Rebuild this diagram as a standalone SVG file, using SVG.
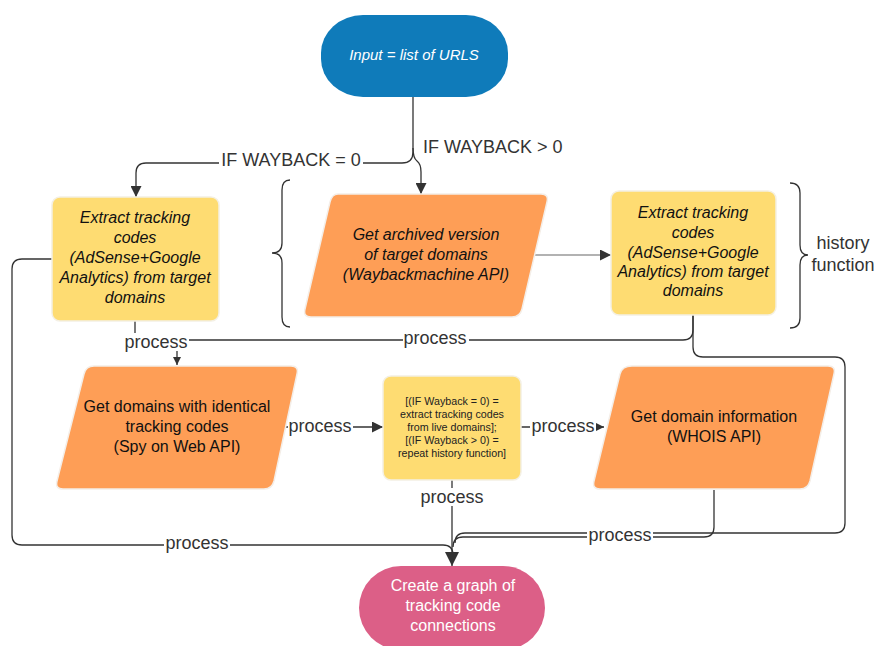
<svg xmlns="http://www.w3.org/2000/svg" width="877" height="646" viewBox="0 0 877 646">
<defs>
<style>
text{font-family:"Liberation Sans",Arial,sans-serif;text-anchor:middle}
.n{font-size:16px;fill:#111}
.i{font-style:italic}
.w{fill:#fff}
.s{font-size:10.7px;fill:#222}
.lbl{font-size:18px;fill:#333}
.c{fill:none;stroke:#333;stroke-width:1.3}
.yel{fill:#fedc72;stroke:#f4f0e4;stroke-width:1.5}
.org{fill:#fe9e56;stroke:#f4eee8;stroke-width:1.5}
.bg{fill:#fff}
</style>
<marker id="ah" viewBox="0 0 10 10" refX="10" refY="5" markerWidth="8" markerHeight="8" markerUnits="userSpaceOnUse" orient="auto"><path d="M0,0L10,5L0,10z" fill="#333"/></marker>
<marker id="ahb" viewBox="0 0 10 10" refX="10" refY="5" markerWidth="14" markerHeight="14" markerUnits="userSpaceOnUse" orient="auto"><path d="M0,0L10,5L0,10z" fill="#333"/></marker>
<marker id="ahm" viewBox="0 0 10 10" refX="10" refY="5" markerWidth="11" markerHeight="11" markerUnits="userSpaceOnUse" orient="auto"><path d="M0,0L10,5L0,10z" fill="#333"/></marker>
</defs>
<rect width="877" height="646" fill="#fff"/>

<g id="connectors">
<path class="c" d="M413,97 V152 Q413,163 402,163 H146 Q136,163 136,173 V197" marker-end="url(#ahm)"/>
<path class="c" d="M413,148 Q413,158 417,161 Q421,164 421,172 V194" marker-end="url(#ahm)"/>
<rect class="bg" x="219" y="150" width="144" height="20"/>
<text class="lbl" x="291" y="166">IF WAYBACK = 0</text>
<text class="lbl" x="423" y="153" style="text-anchor:start">IF WAYBACK &gt; 0</text>

<path d="M533,255 H611" fill="none" stroke="#999" stroke-width="1.3" marker-end="url(#ahm)"/>

<path class="c" d="M135,321 V335 Q135,340 140,340 H172 Q177,340 177,345 V365" marker-end="url(#ah)"/>
<path class="c" d="M693,315 V330 Q693,340 683,340 H182 Q177,340 177,345"/>
<rect class="bg" x="123" y="333" width="66" height="18"/>
<text class="lbl" x="156" y="348">process</text>
<rect class="bg" x="403" y="329" width="66" height="18"/>
<text class="lbl" x="435" y="344">process</text>

<path class="c" d="M693,315 V347 Q693,357 703,357 H835 Q845,357 845,367 V523 Q845,533 835,533 H465 Q455,533 455,543"/>
<path class="c" d="M714,490 V527 Q714,537 704,537 H463 Q453,537 453,547"/>
<path class="c" d="M52,259 H22 Q12,259 12,269 V535 Q12,545 22,545 H443 Q453,545 453,555"/>
<path class="c" d="M452,480 V566" marker-end="url(#ahb)"/>
<rect class="bg" x="419" y="488" width="66" height="18"/>
<text class="lbl" x="452" y="503">process</text>
<rect class="bg" x="587" y="526" width="66" height="18"/>
<text class="lbl" x="620" y="541">process</text>
<rect class="bg" x="164" y="534" width="66" height="18"/>
<text class="lbl" x="197" y="549">process</text>

<path class="c" d="M286,427 H383" marker-end="url(#ahm)"/>
<rect class="bg" x="288" y="417" width="65" height="18"/>
<text class="lbl" x="320" y="432">process</text>
<path class="c" d="M521,427 H604" marker-end="url(#ah)"/>
<rect class="bg" x="530" y="417" width="66" height="18"/>
<text class="lbl" x="563" y="432">process</text>

<path class="c" d="M290,180 Q282,180 282,190 V243 Q282,253 272,253 Q282,253 282,263 V317 Q282,327 290,327"/>
<path class="c" d="M790,183 Q800,183 800,193 V245 Q800,255 808,255 Q800,255 800,265 V318 Q800,328 790,328"/>
<text class="lbl" x="843" y="249">history</text>
<text class="lbl" x="843" y="271">function</text>
</g>

<g id="input">
<rect x="321" y="15" width="187" height="82" rx="42" ry="38" fill="#0f7bba"/>
<text class="n i w" x="414" y="60" style="font-size:15px">Input = list of URLS</text>
</g>

<g id="extract-left">
<rect class="yel" x="52" y="197" width="167" height="124" rx="8"/>
<text class="n i" x="135" y="223">Extract tracking</text>
<text class="n i" x="135" y="243">codes</text>
<text class="n i" x="135" y="263">(AdSense+Google</text>
<text class="n i" x="135" y="283">Analytics) from target</text>
<text class="n i" x="135" y="303">domains</text>
</g>

<g id="archive">
<path class="org" d="M338,194 H541 Q549,194 547,202 L522,309 Q520,317 512,317 H311 Q303,317 305,309 L330,202 Q332,194 338,194 Z"/>
<text class="n i" x="426" y="240">Get archived version</text>
<text class="n i" x="426" y="260">of target domains</text>
<text class="n i" x="426" y="280">(Waybackmachine API)</text>
</g>

<g id="extract-right">
<rect class="yel" x="611" y="191" width="165" height="124" rx="8"/>
<text class="n i" x="693" y="218">Extract tracking</text>
<text class="n i" x="693" y="238">codes</text>
<text class="n i" x="693" y="258">(AdSense+Google</text>
<text class="n i" x="693" y="277">Analytics) from target</text>
<text class="n i" x="693" y="296">domains</text>
</g>

<g id="spy">
<path class="org" d="M94,366 H291 Q299,366 297,374 L274,481 Q272,489 264,489 H63 Q55,489 57,481 L84,374 Q86,366 94,366 Z"/>
<text class="n" x="177" y="412">Get domains with identical</text>
<text class="n" x="177" y="432">tracking codes</text>
<text class="n" x="177" y="452">(Spy on Web API)</text>
</g>

<g id="decision">
<rect class="yel" x="383" y="376" width="138" height="104" rx="8"/>
<text class="s" x="452" y="405">[(IF Wayback = 0) =</text>
<text class="s" x="452" y="418">extract tracking codes</text>
<text class="s" x="452" y="431">from live domains];</text>
<text class="s" x="452" y="444">[(IF Wayback &gt; 0) =</text>
<text class="s" x="452" y="457">repeat history function]</text>
</g>

<g id="whois">
<path class="org" d="M632,366 H828 Q836,366 834,374 L810,481 Q808,489 800,489 H600 Q592,489 594,481 L620,374 Q622,366 632,366 Z"/>
<text class="n" x="714" y="422">Get domain information</text>
<text class="n" x="714" y="442">(WHOIS API)</text>
</g>

<g id="graph">
<rect x="359" y="566" width="186" height="84" rx="42" fill="#dc5f87"/>
<text class="n w" x="453" y="591">Create a graph of</text>
<text class="n w" x="453" y="611">tracking code</text>
<text class="n w" x="453" y="631">connections</text>
</g>
</svg>
